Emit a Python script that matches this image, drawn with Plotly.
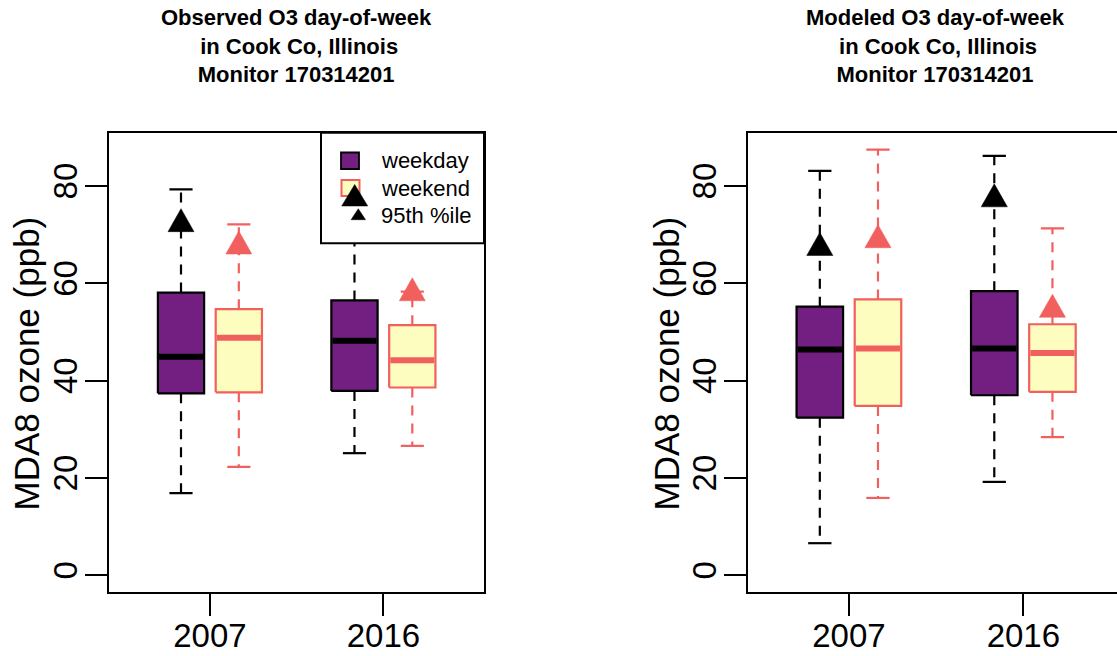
import plotly.graph_objects as go

# ---------------- data ----------------
years = ["2007", "2016"]
groups = ["weekday", "weekend"]

# Observed (left panel)
obs_wd_lower = [16.9, 25.1]
obs_wd_q1 = [37.4, 37.9]
obs_wd_med = [44.9, 48.2]
obs_wd_q3 = [58.1, 56.5]
obs_wd_upper = [79.3, 80.0]
obs_wd_p95 = [72.2, 72.0]

obs_we_lower = [22.3, 26.6]
obs_we_q1 = [37.6, 38.6]
obs_we_med = [48.8, 44.2]
obs_we_q3 = [54.7, 51.4]
obs_we_upper = [72.1, 58.3]
obs_we_p95 = [67.6, 58.0]

# Modeled (right panel)
mod_wd_lower = [6.6, 19.2]
mod_wd_q1 = [32.4, 37.0]
mod_wd_med = [46.4, 46.6]
mod_wd_q3 = [55.2, 58.4]
mod_wd_upper = [83.1, 86.2]
mod_wd_p95 = [67.3, 77.3]

mod_we_lower = [15.9, 28.4]
mod_we_q1 = [34.8, 37.7]
mod_we_med = [46.6, 45.7]
mod_we_q3 = [56.7, 51.6]
mod_we_upper = [87.5, 71.3]
mod_we_p95 = [68.9, 54.6]

y_ticks = [0, 20, 40, 60, 80]
titles = [
    "Observed O3 day-of-week<br>\u00a0in Cook Co, Illinois<br>Monitor 170314201",
    "Modeled O3 day-of-week<br>\u00a0in Cook Co, Illinois<br>Monitor 170314201",
]
y_title = "MDA8 ozone (ppb)"

# ---------------- style ----------------
W, H = 1117, 656
FONT = "Liberation Sans, Arial, Helvetica, sans-serif"
WD_FILL = "#721F81"
WD_LINE = "#000000"
WE_FILL = "#FCFDBF"
WE_LINE = "#F1605D"
BOX_W = 0.8
CAP_W = 0.4
TRI_H_PX = 23.0
TRI_W_PX = 26.0

YR = [-3.43, 90.96]
XR1 = [-0.24, 6.24]
XR2 = [-0.24, 6.11]

dom_y = [1 - 592 / H, 1 - 132.7 / H]
dom_x1 = [109.3 / W, 484 / W]
dom_x2 = [747.7 / W, 1.0]

plot_h_px = 592 - 132.7
px_per_y = plot_h_px / (YR[1] - YR[0])
px_per_x = (484 - 109.3) / (XR1[1] - XR1[0])

base = [1.5, 4.5]
offs = {"weekday": -0.5, "weekend": 0.5}

fig = go.Figure()


def add_group(xa, ya, pos, lower, q1, med, q3, upper, p95, fill, line):
    # whiskers (dashed)
    wx, wy = [], []
    for p, lo, a, b, up in zip(pos, lower, q1, q3, upper):
        wx += [p, p, None, p, p, None]
        wy += [b, up, None, a, lo, None]
    fig.add_trace(go.Scatter(x=wx, y=wy, mode="lines", xaxis=xa, yaxis=ya,
                             line=dict(color=line, width=2.2, dash="10px,8px"),
                             hoverinfo="skip", showlegend=False))
    # caps
    cx, cy = [], []
    for p, lo, up in zip(pos, lower, upper):
        cx += [p - CAP_W / 2, p + CAP_W / 2, None, p - CAP_W / 2, p + CAP_W / 2, None]
        cy += [up, up, None, lo, lo, None]
    fig.add_trace(go.Scatter(x=cx, y=cy, mode="lines", xaxis=xa, yaxis=ya,
                             line=dict(color=line, width=2.2),
                             hoverinfo="skip", showlegend=False))
    # boxes
    for p, a, b in zip(pos, q1, q3):
        fig.add_trace(go.Scatter(
            x=[p - BOX_W / 2, p + BOX_W / 2, p + BOX_W / 2, p - BOX_W / 2, p - BOX_W / 2],
            y=[a, a, b, b, a], mode="lines", fill="toself", fillcolor=fill,
            xaxis=xa, yaxis=ya, line=dict(color=line, width=2.2),
            hoverinfo="skip", showlegend=False))
    # medians
    mx, my = [], []
    for p, m in zip(pos, med):
        mx += [p - BOX_W / 2 + 0.02, p + BOX_W / 2 - 0.02, None]
        my += [m, m, None]
    fig.add_trace(go.Scatter(x=mx, y=my, mode="lines", xaxis=xa, yaxis=ya,
                             line=dict(color=line, width=6),
                             hoverinfo="skip", showlegend=False))
    # 95th percentile triangles (centroid at the value)
    th = TRI_H_PX / px_per_y
    hw = TRI_W_PX / 2 / px_per_x
    for p, v in zip(pos, p95):
        fig.add_trace(go.Scatter(
            x=[p - hw, p + hw, p, p - hw],
            y=[v - th / 3, v - th / 3, v + 2 * th / 3, v - th / 3],
            mode="lines", fill="toself", fillcolor=line,
            line=dict(color=line, width=0.5), xaxis=xa, yaxis=ya,
            hoverinfo="skip", showlegend=False))


pos_wd = [b + offs["weekday"] for b in base]
pos_we = [b + offs["weekend"] for b in base]

add_group("x", "y", pos_wd, obs_wd_lower, obs_wd_q1, obs_wd_med, obs_wd_q3,
          obs_wd_upper, obs_wd_p95, WD_FILL, WD_LINE)
add_group("x", "y", pos_we, obs_we_lower, obs_we_q1, obs_we_med, obs_we_q3,
          obs_we_upper, obs_we_p95, WE_FILL, WE_LINE)
add_group("x2", "y2", pos_wd, mod_wd_lower, mod_wd_q1, mod_wd_med, mod_wd_q3,
          mod_wd_upper, mod_wd_p95, WD_FILL, WD_LINE)
add_group("x2", "y2", pos_we, mod_we_lower, mod_we_q1, mod_we_med, mod_we_q3,
          mod_we_upper, mod_we_p95, WE_FILL, WE_LINE)

axis_common = dict(showgrid=False, zeroline=False, showline=True, linecolor="black",
                   linewidth=2, ticks="outside", ticklen=22, tickwidth=2,
                   tickcolor="black", automargin=False,
                   tickfont=dict(family=FONT, size=33, color="black"))

fig.update_layout(
    width=W, height=H, margin=dict(l=0, r=0, t=0, b=0, autoexpand=False),
    paper_bgcolor="white", plot_bgcolor="white", showlegend=False,
    xaxis=dict(domain=dom_x1, range=XR1, tickvals=base, ticktext=years,
               mirror=True, anchor="y", ticklabelstandoff=-9, **axis_common),
    yaxis=dict(domain=dom_y, range=YR, tickvals=y_ticks, tickangle=-90,
               mirror=True, anchor="x", ticklabelstandoff=-5, **axis_common),
    xaxis2=dict(domain=dom_x2, range=XR2, tickvals=base, ticktext=years,
                mirror=True, anchor="y2", ticklabelstandoff=-9, **axis_common),
    yaxis2=dict(domain=dom_y, range=YR, tickvals=y_ticks, tickangle=-90,
                mirror=False, anchor="x2", ticklabelstandoff=-5, **axis_common),
)


def px(x):
    return x / W


def py(y):
    return 1 - y / H


# titles
for cx, t in zip([(dom_x1[0] + dom_x1[1]) / 2, 935 / W], titles):
    fig.add_annotation(x=cx, y=py(46), xref="paper", yref="paper", text="<b>" + t + "</b>",
                       showarrow=False, xanchor="center", yanchor="middle",
                       font=dict(family=FONT, size=22, color="black"), align="center")
# y-axis titles
for cx in [26, 666]:
    fig.add_annotation(x=px(cx), y=py(363.5), xref="paper", yref="paper", text=y_title,
                       textangle=-90, showarrow=False, xanchor="center", yanchor="middle",
                       font=dict(family=FONT, size=35, color="black"))

# legend (left panel)
shapes = []
shapes.append(dict(type="rect", xref="paper", yref="paper", x0=px(321), x1=px(484),
                   y0=py(243.3), y1=py(132.7), fillcolor="white",
                   line=dict(color="black", width=2), layer="above"))
shapes.append(dict(type="rect", xref="paper", yref="paper", x0=px(341), x1=px(359),
                   y0=py(169), y1=py(152.5), fillcolor=WD_FILL,
                   line=dict(color=WD_LINE, width=1.8), layer="above"))
shapes.append(dict(type="rect", xref="paper", yref="paper", x0=px(341.5), x1=px(359.5),
                   y0=py(196), y1=py(180), fillcolor=WE_FILL,
                   line=dict(color=WE_LINE, width=2), layer="above"))


def tri_path(cx, top, bottom, w):
    return (f"M {px(cx - w / 2)},{py(bottom)} L {px(cx + w / 2)},{py(bottom)} "
            f"L {px(cx)},{py(top)} Z")


shapes.append(dict(type="path", xref="paper", yref="paper",
                   path=tri_path(354.7, 184.5, 206, 26), fillcolor="black",
                   line=dict(color="black", width=0.5), layer="above"))
shapes.append(dict(type="path", xref="paper", yref="paper",
                   path=tri_path(358.3, 208.7, 219.7, 14.5), fillcolor="black",
                   line=dict(color="black", width=0.5), layer="above"))
fig.update_layout(shapes=shapes)

for label, yy in zip(["weekday", "weekend", "95th %ile"], [160.5, 188, 215]):
    fig.add_annotation(x=px(379), y=py(yy), xref="paper", yref="paper", text=label,
                       showarrow=False, xanchor="left", yanchor="middle",
                       font=dict(family=FONT, size=22, color="black"))

fig.write_html("out.html")
